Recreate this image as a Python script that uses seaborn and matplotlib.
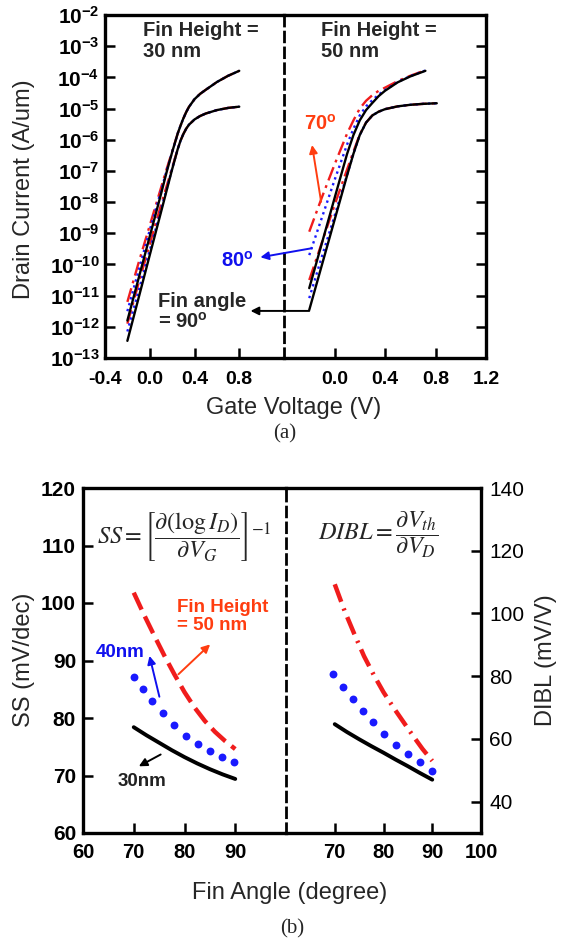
import numpy as np
import pandas as pd
import matplotlib
matplotlib.use("Agg")
import matplotlib.pyplot as plt
import seaborn as sns


# ---------------- (a) Id-Vg, values are log10(Id [A/um]) ----------------
vg_30 = [-0.2, -0.1, 0.0, 0.1, 0.15, 0.2, 0.25, 0.275, 0.3, 0.325, 0.35, 0.4, 0.45, 0.5, 0.6, 0.7, 0.8]
logi_30_hi_90 = [-11.8, -10.45, -9.1, -7.75, -7.05, -6.4, -5.8, -5.55, -5.32, -5.12, -4.95, -4.7, -4.53, -4.4, -4.15, -3.95, -3.79]
logi_30_hi_80 = [-11.5, -10.2, -8.9, -7.65, -7.0, -6.4, -5.8, -5.55, -5.32, -5.12, -4.95, -4.7, -4.53, -4.4, -4.15, -3.95, -3.79]
logi_30_hi_70 = [-11.2, -9.95, -8.75, -7.55, -6.95, -6.38, -5.8, -5.55, -5.32, -5.12, -4.95, -4.7, -4.53, -4.4, -4.15, -3.95, -3.79]
logi_30_lo_90 = [-12.45, -11.08, -9.7, -8.33, -7.64, -6.95, -6.3, -6.03, -5.82, -5.65, -5.52, -5.35, -5.24, -5.16, -5.05, -4.98, -4.94]
logi_30_lo_80 = [-12.15, -10.85, -9.55, -8.25, -7.6, -6.93, -6.3, -6.03, -5.82, -5.65, -5.52, -5.35, -5.24, -5.16, -5.05, -4.98, -4.94]
logi_30_lo_70 = [-11.9, -10.6, -9.35, -8.1, -7.5, -6.9, -6.3, -6.03, -5.82, -5.65, -5.52, -5.35, -5.24, -5.16, -5.05, -4.98, -4.94]

vg_50_hi = [-0.2, -0.1, 0.0, 0.1, 0.15, 0.2, 0.25, 0.3, 0.35, 0.4, 0.5, 0.6, 0.72]
logi_50_hi_90 = [-10.76, -9.32, -7.88, -6.45, -5.85, -5.38, -5.05, -4.82, -4.6, -4.43, -4.16, -3.97, -3.79]
logi_50_hi_80 = [-9.7, -8.5, -7.3, -6.15, -5.65, -5.22, -4.93, -4.73, -4.55, -4.41, -4.15, -3.96, -3.78]
logi_50_hi_70 = [-8.95, -7.85, -6.8, -5.8, -5.38, -5.0, -4.75, -4.57, -4.43, -4.33, -4.12, -3.95, -3.77]
vg_50_lo = [-0.2, -0.1, 0.0, 0.1, 0.15, 0.2, 0.25, 0.3, 0.35, 0.4, 0.5, 0.6, 0.7, 0.81]
logi_50_lo_90 = [-11.46, -10.02, -8.58, -7.14, -6.45, -5.85, -5.45, -5.22, -5.1, -5.02, -4.93, -4.88, -4.85, -4.83]
logi_50_lo_80 = [-11.08, -9.75, -8.45, -7.12, -6.45, -5.85, -5.45, -5.22, -5.1, -5.02, -4.93, -4.88, -4.85, -4.83]
logi_50_lo_70 = [-10.5, -9.3, -8.1, -6.95, -6.38, -5.83, -5.45, -5.22, -5.1, -5.02, -4.93, -4.88, -4.85, -4.83]

# ---------------- (b) SS and DIBL vs fin angle ----------------
ang_30 = [70, 72.5, 75, 77.5, 80, 82.5, 85, 87.5, 90]
ss_30 = [78.4, 77.0, 75.7, 74.4, 73.2, 72.1, 71.1, 70.2, 69.4]
ang_40 = [70, 71.8, 73.6, 75.7, 77.9, 80.3, 82.7, 85.1, 87.4, 89.7]
ss_40 = [87.2, 85.1, 82.9, 80.9, 78.8, 76.9, 75.4, 74.3, 73.2, 72.3]
ang_50 = [70, 72, 74, 76, 78, 80, 82, 84, 86, 88, 90]
ss_50 = [101.8, 98.0, 94.4, 90.9, 87.6, 84.5, 81.8, 79.5, 77.6, 76.0, 74.6]

dibl_ang_30 = [70, 72.5, 75, 77.5, 80, 82.5, 85, 87.5, 90]
dibl_30 = [64.7, 62.2, 59.9, 57.7, 55.6, 53.4, 51.3, 49.1, 47.0]
dibl_ang_40 = [69.7, 71.7, 73.8, 75.7, 77.8, 80.1, 82.6, 85.0, 87.5, 90.0]
dibl_40 = [80.7, 76.5, 72.6, 69.0, 65.3, 61.6, 58.2, 55.3, 52.5, 49.7]
dibl_ang_50 = [70, 72, 74, 76, 78, 80, 82, 84, 86, 88, 90]
dibl_50 = [109.3, 100.9, 93.5, 86.4, 80.4, 74.9, 70.1, 65.6, 61.1, 56.8, 53.0]

RED = "#f01c1c"
ORANGE = "#ff3d10"
BLUE = "#1a1aff"
TXT_BLUE = "#1010ee"


def curves(vg, hi, lo):
    rows = []
    for vd, group in (("hi", hi), ("lo", lo)):
        for angle, logi in group.items():
            for v, li in zip(vg[vd], logi):
                rows.append({"vg": v, "id": 10.0 ** li, "angle": angle, "vd": vd})
    return pd.DataFrame(rows)


df30 = curves({"hi": vg_30, "lo": vg_30},
              {70: logi_30_hi_70, 80: logi_30_hi_80, 90: logi_30_hi_90},
              {70: logi_30_lo_70, 80: logi_30_lo_80, 90: logi_30_lo_90})
df50 = curves({"hi": vg_50_hi, "lo": vg_50_lo},
              {70: logi_50_hi_70, 80: logi_50_hi_80, 90: logi_50_hi_90},
              {70: logi_50_lo_70, 80: logi_50_lo_80, 90: logi_50_lo_90})

sns.set_theme(style="ticks")
plt.rcParams["font.family"] = ["Liberation Sans", "DejaVu Sans"]
plt.rcParams["mathtext.fontset"] = "custom"
plt.rcParams["mathtext.rm"] = "Liberation Sans"
plt.rcParams["mathtext.bf"] = "Liberation Sans:bold"
plt.rcParams["axes.unicode_minus"] = False

W, H = 569, 941
fig = plt.figure(figsize=(W / 100, H / 100), dpi=100)


def px_axes(x0, x1, y0, y1):
    return fig.add_axes([x0 / W, 1 - y1 / H, (x1 - x0) / W, (y1 - y0) / H])


def ftext(x, y, s, **kw):
    fig.text(x / W, 1 - y / H, s, **kw)


TICK = dict(direction="in", length=7, width=1.8, colors="black")
SPINE_W = 2.4
DIV_DASH = (0, (3.5, 2.2))


def style_pair(axl, axr, xsize, ysize):
    for ax in (axl, axr):
        for s in ax.spines.values():
            s.set_linewidth(SPINE_W)
            s.set_color("black")
        ax.tick_params(axis="both", **TICK)
        ax.tick_params(axis="x", labelsize=xsize, pad=7)
        ax.tick_params(axis="y", labelsize=ysize)
        for lab in ax.get_xticklabels() + ax.get_yticklabels():
            lab.set_fontweight("bold")
    axl.spines["right"].set_visible(False)
    axr.spines["left"].set_linestyle(DIV_DASH)
    axr.spines["left"].set_linewidth(2.0)
    axr.yaxis.tick_right()
    axr.tick_params(axis="y", left=False, right=True)


ARROW = dict(arrowstyle="-|>", lw=1.4, mutation_scale=12, shrinkA=0, shrinkB=0)

# ---------------- panel (a) ----------------
axa1 = px_axes(105, 284, 15, 358)
axa2 = px_axes(284, 486, 15, 358)
palette = {70: RED, 80: BLUE, 90: "black"}
dashes = {70: (6, 2.2, 1.2, 2.2), 80: (1, 1.6), 90: ""}
for ax, df in ((axa1, df30), (axa2, df50)):
    ax.set_yscale("log")
    sns.lineplot(data=df, x="vg", y="id", hue="angle", style="angle", units="vd",
                 estimator=None, hue_order=[70, 80, 90], palette=palette,
                 dashes=dashes, linewidth=1.7, legend=False, sort=False, ax=ax)
    ax.set_xlim(-0.4, 1.2)
    ax.set_ylim(1e-13, 1e-2)
    ax.yaxis.set_minor_locator(matplotlib.ticker.NullLocator())
    ax.set_yticks([10.0 ** e for e in range(-13, -1)])
    ax.set_xlabel("")
    ax.set_ylabel("")

axa1.set_yticklabels([rf"$\mathbf{{10^{{{e}}}}}$" for e in range(-13, -1)])
axa2.set_yticklabels([])
axa1.set_xticks([-0.4, 0.0, 0.4, 0.8])
axa1.set_xticklabels(["-0.4", "0.0", "0.4", "0.8"])
axa2.set_xticks([0.0, 0.4, 0.8, 1.2])
axa2.set_xticklabels(["0.0", "0.4", "0.8", "1.2"])
style_pair(axa1, axa2, 14, 15)
axa1.tick_params(axis="y", pad=4)
axa1.tick_params(axis="x", pad=9)
axa2.tick_params(axis="x", pad=9)

bold = dict(fontweight="bold", fontsize=14.5, linespacing=1.1)
axa1.text(-0.06, 10 ** -2.2, "Fin Height =\n30 nm", ha="left", va="top", **bold)
axa2.text(-0.11, 10 ** -2.2, "Fin Height =\n50 nm", ha="left", va="top", **bold)

axa2.text(-0.245, 10 ** -5.5, r"70$^{\mathbf{o}}$", color=ORANGE, ha="left", va="center",
          fontweight="bold", fontsize=14.5)
axa2.annotate("", xy=(-0.178, 10 ** -6.17), xytext=(-0.106, 10 ** -7.99),
              arrowprops=dict(color=ORANGE, **ARROW), annotation_clip=False)
axa1.text(0.787, 10 ** -9.88, r"80$^{\mathbf{o}}$", color=TXT_BLUE, ha="center", va="center",
          fontweight="bold", fontsize=14.5)
axa2.annotate("", xy=(-0.587, 10 ** -9.77), xytext=(-0.18, 10 ** -9.48),
              arrowprops=dict(color=TXT_BLUE, **ARROW), annotation_clip=False)
axa1.text(0.076, 10 ** -11.52, "Fin angle\n= 90$^{\\mathbf{o}}$", ha="left", va="center",
          fontweight="bold", fontsize=14.5, linespacing=1.1)
axa2.annotate("", xy=(-0.665, 10 ** -11.49), xytext=(-0.2, 10 ** -11.49),
              arrowprops=dict(color="black", **ARROW), annotation_clip=False)

ftext(294, 408, "Gate Voltage (V)", ha="center", va="center", fontsize=17)
ftext(24, 189, "Drain Current (A/um)", ha="center", va="center", rotation=90, fontsize=17)
ftext(285, 434, "(a)", ha="center", va="center", fontsize=15, family="Liberation Serif")

# ---------------- panel (b) ----------------
axb1 = px_axes(83, 286, 488, 833)
axb2 = px_axes(286, 481, 488, 833)

sns.lineplot(data=pd.DataFrame({"angle": ang_30, "ss": ss_30}), x="angle", y="ss",
             color="black", linewidth=2.8, ax=axb1)
sns.lineplot(data=pd.DataFrame({"angle": ang_50, "ss": ss_50}), x="angle", y="ss",
             color=RED, linewidth=3.2, ax=axb1).lines[-1].set_dashes((4.2, 1.7))
sns.scatterplot(data=pd.DataFrame({"angle": ang_40, "ss": ss_40}), x="angle", y="ss",
                color=BLUE, s=32, linewidth=0, ax=axb1)

sns.lineplot(data=pd.DataFrame({"angle": dibl_ang_30, "dibl": dibl_30}), x="angle", y="dibl",
             color="black", linewidth=2.8, ax=axb2)
sns.lineplot(data=pd.DataFrame({"angle": dibl_ang_50, "dibl": dibl_50}), x="angle", y="dibl",
             color=RED, linewidth=3.2, ax=axb2).lines[-1].set_dashes((4.2, 1.6, 0.5, 1.6))
sns.scatterplot(data=pd.DataFrame({"angle": dibl_ang_40, "dibl": dibl_40}), x="angle", y="dibl",
                color=BLUE, s=32, linewidth=0, ax=axb2)

axb1.set_xlim(60, 100)
axb1.set_ylim(60, 120)
axb1.set_xticks([60, 70, 80, 90])
axb1.set_yticks([60, 70, 80, 90, 100, 110, 120])
axb2.set_xlim(60, 100)
axb2.set_ylim(30, 140)
axb2.set_xticks([70, 80, 90, 100])
axb2.set_yticks([40, 60, 80, 100, 120, 140])
for ax in (axb1, axb2):
    ax.set_xlabel("")
    ax.set_ylabel("")
style_pair(axb1, axb2, 14.5, 15)
axb1.tick_params(axis="y", pad=5)
axb2.tick_params(axis="y", pad=6)

axb1.text(62.8, 111.6, r"$SS=\left[\dfrac{\partial\left(\log I_D\right)}{\partial V_G}\right]^{-1}$",
          math_fontfamily="stix", fontsize=17.5, ha="left", va="center")
axb2.text(66.6, 125, r"$DIBL=\dfrac{\partial V_{th}}{\partial V_D}$",
          math_fontfamily="stix", fontsize=17.5, ha="left", va="center")

axb1.text(78.5, 97.7, "Fin Height\n= 50 nm", color=ORANGE, fontweight="bold", fontsize=13.5,
          ha="left", va="center", linespacing=1.1)
axb1.annotate("", xy=(85.05, 92.8), xytext=(78.8, 87.6), arrowprops=dict(color=ORANGE, **ARROW))
axb1.text(67.3, 91.4, "40nm", color=TXT_BLUE, fontweight="bold", fontsize=13.5,
          ha="center", va="center")
axb1.annotate("", xy=(73.1, 90.8), xytext=(75.05, 83.7), arrowprops=dict(color=TXT_BLUE, **ARROW))
axb1.text(71.6, 68.9, "30nm", color="#222222", fontweight="bold", fontsize=13.5,
          ha="center", va="center")
axb1.annotate("", xy=(71.0, 71.6), xytext=(75.3, 73.65), arrowprops=dict(color="black", **ARROW))

ftext(290, 893, "Fin Angle (degree)", ha="center", va="center", fontsize=17)
ftext(24, 660, "SS (mV/dec)", ha="center", va="center", rotation=90, fontsize=17)
ftext(546, 660, "DIBL (mV/V)", ha="center", va="center", rotation=90, fontsize=17)
ftext(292, 929, "(b)", ha="center", va="center", fontsize=15, family="Liberation Serif")

fig.savefig("out.png", dpi=100)
